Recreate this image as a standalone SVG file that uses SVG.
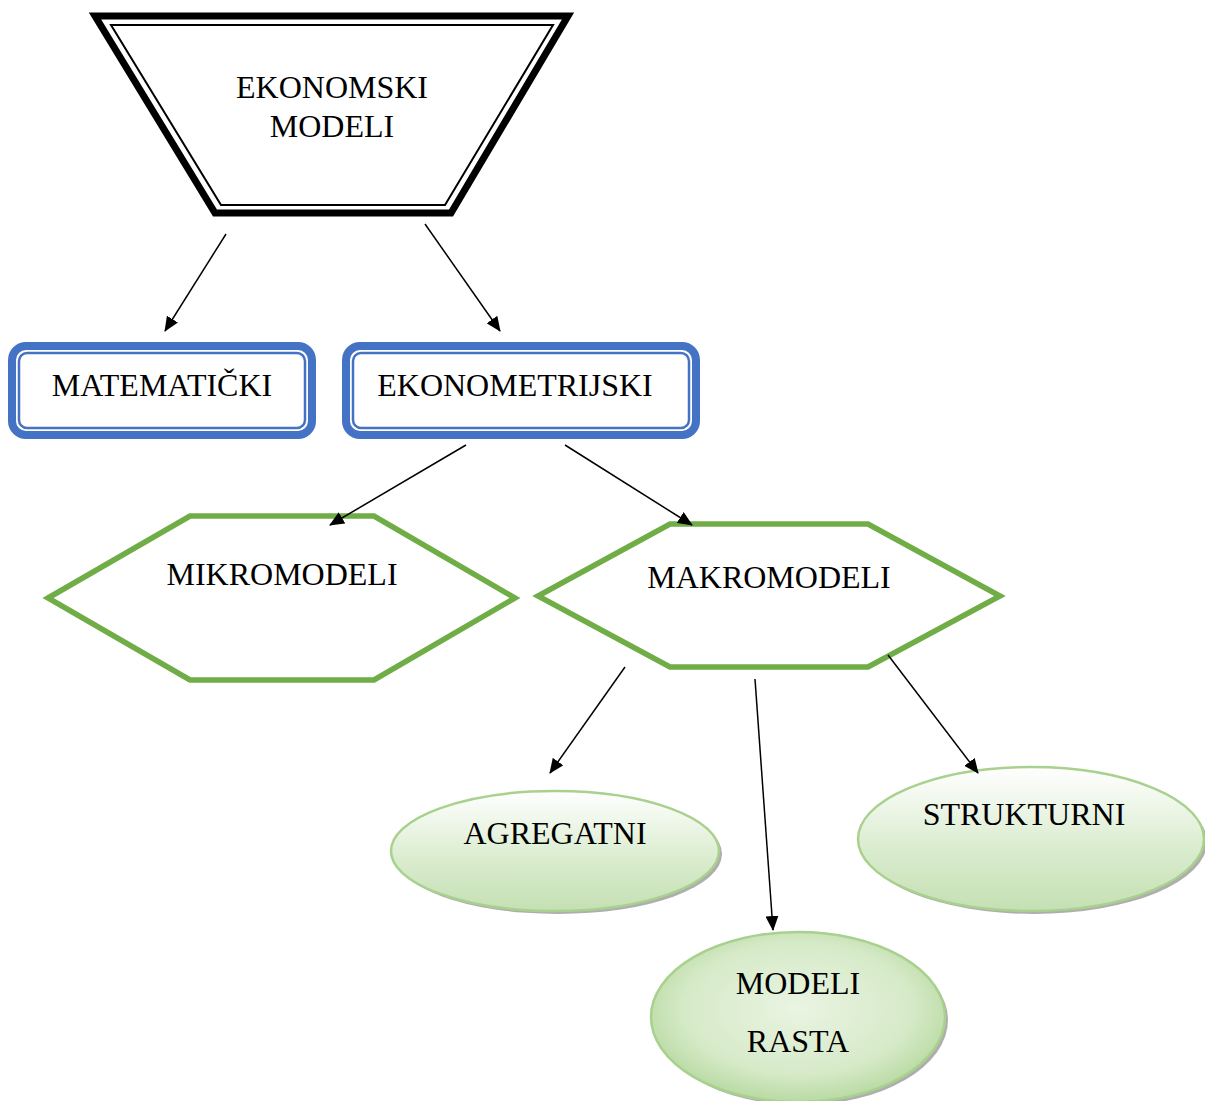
<svg xmlns="http://www.w3.org/2000/svg" width="1205" height="1101" viewBox="0 0 1205 1101">
<style>
text{font-family:"Liberation Serif","Times New Roman",serif;font-size:32px;fill:#000;text-anchor:middle}
.blueO{fill:none;stroke:#4472C4;stroke-width:8}
.blueI{fill:none;stroke:#4472C4;stroke-width:2.5}
.hex{fill:#fff;stroke:#70AD47;stroke-width:5.5}
.ell{stroke:#A9D18E;stroke-width:2.5}
.shadow{fill:#9A9A9A;opacity:0.8}
.conn line{stroke:#000;stroke-width:1.5;marker-end:url(#arr)}
</style>
<defs>
<marker id="arr" markerWidth="15" markerHeight="13" refX="14" refY="6.5" orient="auto" markerUnits="userSpaceOnUse">
<path d="M0,0 L15,6.5 L0,13 z" fill="#000"/>
</marker>
<linearGradient id="gl" x1="0" y1="0" x2="0" y2="1">
<stop offset="0" stop-color="#FFFFFF"/>
<stop offset="0.6" stop-color="#D8EBCC"/>
<stop offset="1" stop-color="#C5E0B4"/>
</linearGradient>
<radialGradient id="gr" cx="0.5" cy="0.45" r="0.55">
<stop offset="0" stop-color="#EAF4E2"/>
<stop offset="0.7" stop-color="#D6EAC8"/>
<stop offset="1" stop-color="#B9DAA3"/>
</radialGradient>
</defs>
<g id="ekonomski">
<polygon points="95,16 568,16 451,213 215,213" fill="#fff" stroke="#000" stroke-width="7"/>
<polygon points="111,25 553,25 445,205 221,205" fill="none" stroke="#000" stroke-width="2"/>
<text x="332" y="98">EKONOMSKI</text>
<text x="332" y="137">MODELI</text>
</g>
<g id="matematicki">
<rect x="12" y="346" width="300" height="89" rx="14" class="blueO" fill="#fff"/>
<rect x="19" y="353" width="286" height="75" rx="8" class="blueI"/>
<text x="162" y="396">MATEMATIČKI</text>
</g>
<g id="ekonometrijski">
<rect x="346" y="346" width="350" height="89" rx="14" class="blueO" fill="#fff"/>
<rect x="353" y="353" width="336" height="75" rx="8" class="blueI"/>
<text x="515" y="396">EKONOMETRIJSKI</text>
</g>
<g id="mikromodeli">
<polygon class="hex" points="48,598 190,516 374,516 515,598 374,680 190,680"/>
<text x="282" y="585">MIKROMODELI</text>
</g>
<g id="makromodeli">
<polygon class="hex" points="538,596 670,524 868,524 1000,596 868,667 670,667"/>
<text x="769" y="588">MAKROMODELI</text>
</g>
<g id="agregatni">
<ellipse class="shadow" cx="558" cy="854" rx="164" ry="60"/>
<ellipse class="ell" cx="555" cy="851" rx="164" ry="60" fill="url(#gl)"/>
<text x="555" y="844">AGREGATNI</text>
</g>
<g id="strukturni">
<ellipse class="shadow" cx="1034" cy="842" rx="173" ry="72"/>
<ellipse class="ell" cx="1031" cy="839" rx="173" ry="72" fill="url(#gl)"/>
<text x="1024" y="825">STRUKTURNI</text>
</g>
<g id="modeli-rasta">
<ellipse class="shadow" cx="801" cy="1020" rx="147" ry="85"/>
<ellipse class="ell" cx="798" cy="1017" rx="147" ry="85" fill="url(#gr)"/>
<text x="798" y="994">MODELI</text>
<text x="798" y="1052">RASTA</text>
</g>
<g id="connectors" class="conn">
<line x1="226" y1="234" x2="165" y2="331"/>
<line x1="425" y1="224" x2="500" y2="331"/>
<line x1="466" y1="445" x2="330" y2="525"/>
<line x1="565" y1="445" x2="692" y2="525"/>
<line x1="625" y1="667" x2="550" y2="773"/>
<line x1="755" y1="679" x2="773" y2="930"/>
<line x1="888" y1="655" x2="978" y2="773"/>
</g>
</svg>
